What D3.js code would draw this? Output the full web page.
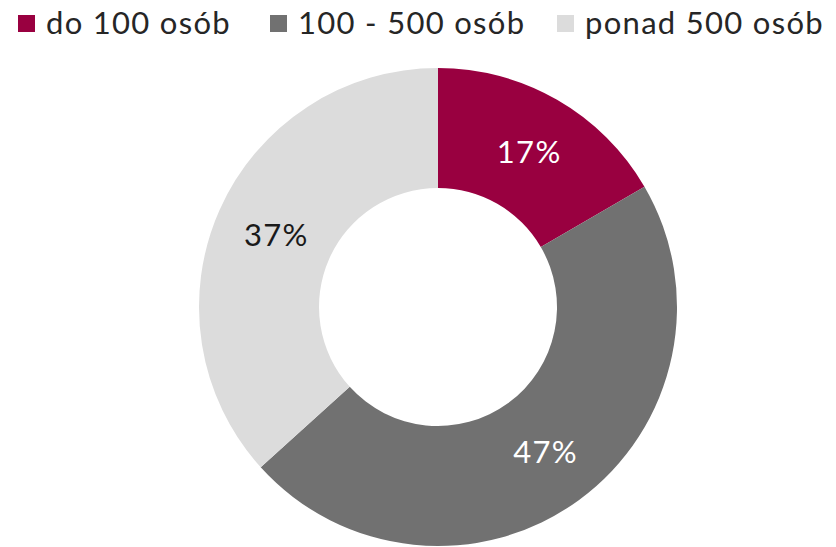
<!DOCTYPE html>
<html lang="pl">
<head>
<meta charset="UTF-8">
<title>donut</title>
<script src="https://cdn.jsdelivr.net/npm/d3@7"></script>
<style>
  body { margin: 0; background: #fff; }
  text { font-family: Lato, "Open Sans", sans-serif; letter-spacing: 1.3px; }
</style>
</head>
<body>
<div id="root"></div>
<script>
// data
var categories = ['do 100 osób', '100 - 500 osób', 'ponad 500 osób']
var values = [16.6, 46.7, 36.7]
var labels = ['17%', '47%', '37%']
var colors = ['#990040', '#717171', '#dcdcdc']
var labelColors = ['#ffffff', '#ffffff', '#1a1a1a']

var width = 836
var height = 547
var cx = 438, cy = 307
var outerR = 239, innerR = 119

var svg = d3.select('#root').append('svg')
    .attr('width', width)
    .attr('height', height)

var color = d3.scaleOrdinal().domain(categories).range(colors)

var pie = d3.pie().sort(null).value(function(d) { return d.value })
var arc = d3.arc().innerRadius(innerR).outerRadius(outerR)

var data = categories.map(function(c, i) {
    return { name: c, value: values[i], label: labels[i], lc: labelColors[i] }
})

var g = svg.append('g').attr('transform', 'translate(' + cx + ',' + cy + ')')

var slices = g.selectAll('g.slice')
    .data(pie(data))
    .enter().append('g').attr('class', 'slice')

slices.append('path')
    .attr('d', arc)
    .attr('fill', function(d) { return color(d.data.name) })

slices.append('text')
    .attr('transform', function(d) { return 'translate(' + arc.centroid(d) + ')' })
    .attr('x', 2)
    .attr('text-anchor', 'middle')
    .attr('dy', '0.36em')
    .attr('font-size', 31)
    .attr('fill', function(d) { return d.data.lc })
    .text(function(d) { return d.data.label })

// legend
var legendX = [18, 270, 557]
var legend = svg.selectAll('g.legend')
    .data(categories)
    .enter().append('g').attr('class', 'legend')
    .attr('transform', function(d, i) { return 'translate(' + legendX[i] + ',0)' })

legend.append('rect')
    .attr('x', 0).attr('y', 15)
    .attr('width', 17).attr('height', 17)
    .attr('fill', function(d) { return color(d) })

legend.append('text')
    .attr('x', 28).attr('y', 34)
    .attr('font-size', 31)
    .attr('fill', '#262626')
    .text(function(d) { return d })
</script>
</body>
</html>
